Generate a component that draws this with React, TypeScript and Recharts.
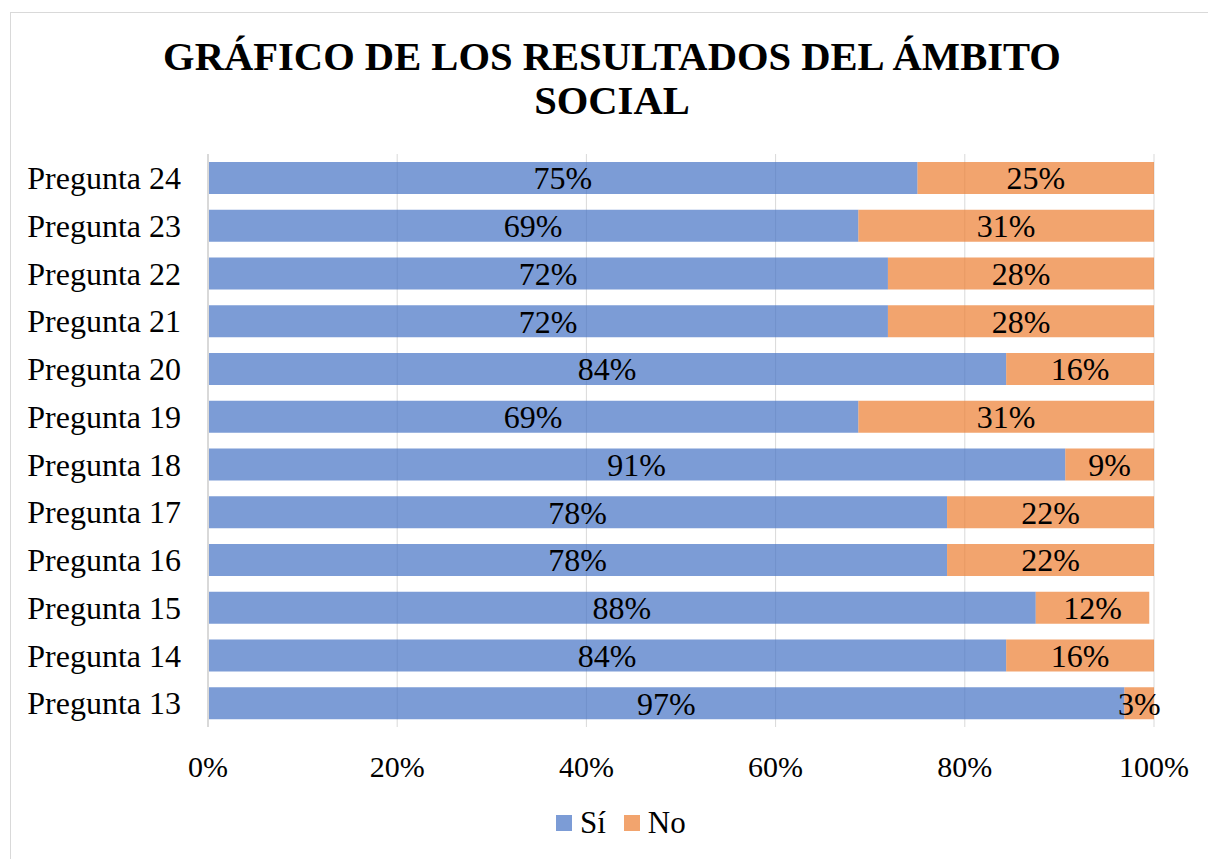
import { Bar, BarChart, CartesianGrid, LabelList, XAxis, YAxis } from 'recharts';

const preguntas = [
  'Pregunta 24', 'Pregunta 23', 'Pregunta 22', 'Pregunta 21', 'Pregunta 20', 'Pregunta 19',
  'Pregunta 18', 'Pregunta 17', 'Pregunta 16', 'Pregunta 15', 'Pregunta 14', 'Pregunta 13',
];
const si = [75, 68.75, 71.875, 71.875, 84.375, 68.75, 90.625, 78.125, 78.125, 87.5, 84.375, 96.875];
const no = [25, 31.25, 28.125, 28.125, 15.625, 31.25, 9.375, 21.875, 21.875, 12, 15.625, 3.125];
const xTicks = [0, 20, 40, 60, 80, 100];

const FONT = '"Liberation Serif", "Times New Roman", serif';
const AZUL = '#4472C4';
const NARANJA = '#ED7D31';

const data = preguntas.map((p, i) => ({ pregunta: p, si: si[i], no: no[i] }));

const pct = (v: unknown) => `${Math.round(Number(v))}%`;

export default function App() {
  return (
    <div style={{ position: 'absolute', left: 0, top: 0, width: 1208, height: 859, overflow: 'hidden', background: '#fff', fontFamily: FONT }}>
      {/* marco del gráfico */}
      <div style={{ position: 'absolute', left: 10, top: 12, width: 1240, height: 900, border: '1px solid #d9d9d9' }} />
      <div
        style={{
          position: 'absolute', left: 10, top: 35, width: 1204, textAlign: 'center',
          fontSize: 40.6, fontWeight: 'bold', lineHeight: '44px', color: '#000',
        }}
      >
        GRÁFICO DE LOS RESULTADOS DEL ÁMBITO
        <br />
        SOCIAL
      </div>
      <div style={{ position: 'absolute', left: 0, top: 0 }}>
        <BarChart
          width={1208}
          height={859}
          data={data}
          layout="vertical"
          margin={{ top: 154, right: 54, bottom: 102, left: 0 }}
          barSize={32}
        >
          <CartesianGrid horizontal={false} stroke="#d9d9d9" />
          <XAxis
            type="number"
            domain={[0, 100]}
            ticks={xTicks}
            tickFormatter={pct}
            axisLine={false}
            tickLine={false}
            tickMargin={23}
            tick={{ fontSize: 30, fill: '#000', fontFamily: FONT }}
            interval={0}
          />
          <YAxis
            type="category"
            dataKey="pregunta"
            width={208}
            axisLine={{ stroke: '#d9d9d9', strokeWidth: 2 }}
            tickLine={false}
            tickMargin={21}
            tick={{ fontSize: 32, fill: '#000', fontFamily: FONT }}
            interval={0}
          />
          <Bar dataKey="si" stackId="a" fill={AZUL} fillOpacity={0.7} isAnimationActive={false}>
            <LabelList dataKey="si" position="center" formatter={pct} fill="#000" fontSize={32} fontFamily={FONT} />
          </Bar>
          <Bar dataKey="no" stackId="a" fill={NARANJA} fillOpacity={0.7} isAnimationActive={false}>
            <LabelList dataKey="no" position="center" formatter={pct} fill="#000" fontSize={32} fontFamily={FONT} />
          </Bar>
        </BarChart>
      </div>
      {/* leyenda */}
      <div style={{ position: 'absolute', left: 556, top: 805, display: 'flex', alignItems: 'center', fontSize: 31, color: '#000' }}>
        <span style={{ width: 16, height: 16, background: AZUL, opacity: 0.7, display: 'inline-block', marginRight: 8 }} />
        <span style={{ marginRight: 18 }}>Sí</span>
        <span style={{ width: 16, height: 16, background: NARANJA, opacity: 0.7, display: 'inline-block', marginRight: 8 }} />
        <span>No</span>
      </div>
    </div>
  );
}
